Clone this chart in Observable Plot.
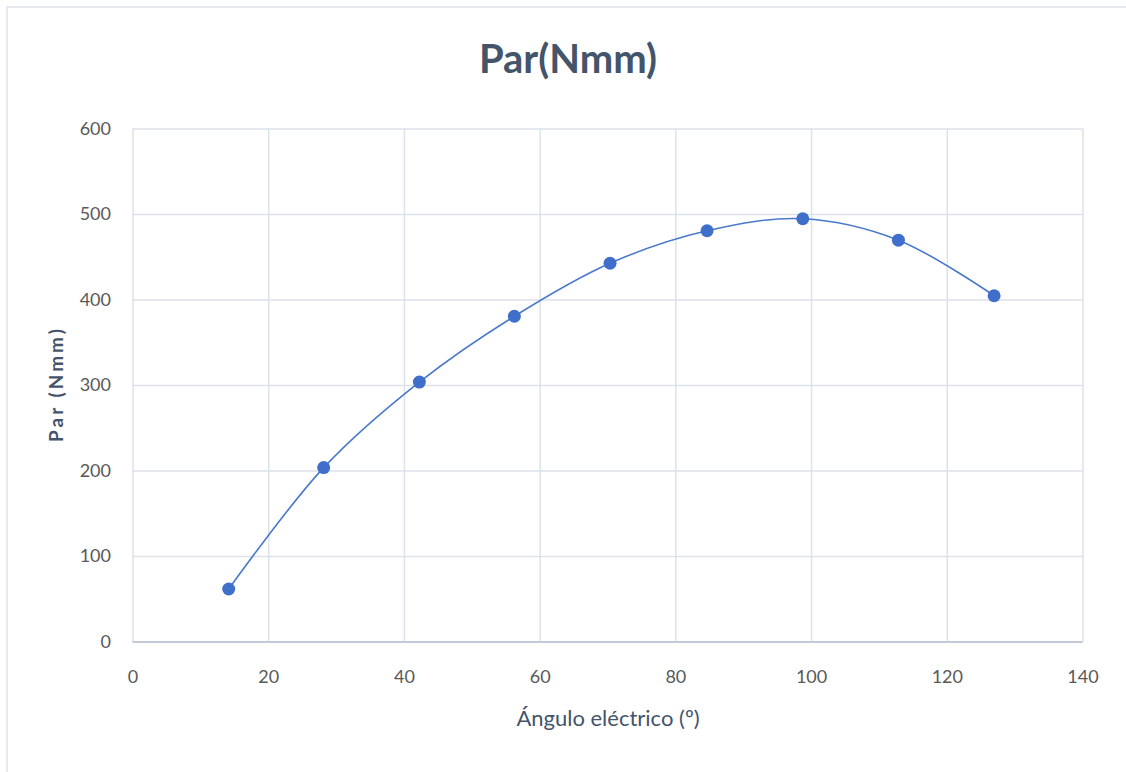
<!DOCTYPE html>
<html>
<head>
<meta charset="utf-8">
<script src="https://cdn.jsdelivr.net/npm/d3@7"></script>
<script src="https://cdn.jsdelivr.net/npm/@observablehq/plot@0.6"></script>
<style>
  html, body { margin: 0; padding: 0; background: #ffffff; }
  #wrap { position: relative; width: 1126px; height: 772px; overflow: hidden; font-family: Lato, "Open Sans", sans-serif; }
  #border { position: absolute; left: 6px; top: 6px; width: 1140px; height: 800px; border: 2px solid #e6e9ef; box-sizing: border-box; }
  #title { position: absolute; left: 0; width: 1136px; top: 34px; text-align: center; font-size: 40px; font-weight: bold; color: #44546a; }
  #chart { position: absolute; left: 0; top: 0; }
  #ylabel { position: absolute; left: 55px; top: 384px; transform: translate(-50%, -50%) rotate(-90deg); font-size: 19px; font-weight: bold; color: #44546a; white-space: nowrap; letter-spacing: 3px; }
  #xlabel { position: absolute; left: 0; width: 1216px; top: 704px; text-align: center; font-size: 22px; color: #44546a; }
</style>
</head>
<body>
<div id="wrap">
  <div id="border"></div>
  <div id="chart"></div>
  <div id="title">Par(Nmm)</div>
  <div id="ylabel">Par (Nmm)</div>
  <div id="xlabel">Ángulo eléctrico (º)</div>
</div>
<script>
const angles = [14.1, 28.1, 42.2, 56.2, 70.3, 84.6, 98.7, 112.8, 126.9];
const torque = [62, 204, 304, 381, 443, 481, 495, 470, 405];
const xTicks = [0, 20, 40, 60, 80, 100, 120, 140];
const yTicks = [0, 100, 200, 300, 400, 500, 600];

const data = angles.map((a, i) => ({angle: a, torque: torque[i]}));

const chart = Plot.plot({
  width: 1126,
  height: 772,
  marginLeft: 132.5,
  marginRight: 43.5,
  marginTop: 128.5,
  marginBottom: 130.5,
  style: {fontFamily: "Lato, 'Open Sans', sans-serif", fontSize: "18px", color: "#595959", background: "transparent"},
  x: {domain: [0, 140], ticks: xTicks, label: null, tickSize: 0, tickPadding: 28},
  y: {domain: [0, 600], ticks: yTicks, label: null, tickSize: 0, tickPadding: 22},
  marks: [
    Plot.gridX(xTicks, {stroke: "#dde2ea", strokeOpacity: 1, strokeWidth: 1.5}),
    Plot.gridY(yTicks, {stroke: "#dde2ea", strokeOpacity: 1, strokeWidth: 1.5}),
    Plot.ruleY([0], {stroke: "#c3cad6", strokeWidth: 2}),
    Plot.line(data, {x: "angle", y: "torque", curve: "catmull-rom", stroke: "#4a78cc", strokeWidth: 1.6}),
    Plot.dot(data, {x: "angle", y: "torque", r: 6.5, fill: "#3f6fcb", stroke: "none"})
  ]
});
document.getElementById("chart").appendChild(chart);
</script>
</body>
</html>
